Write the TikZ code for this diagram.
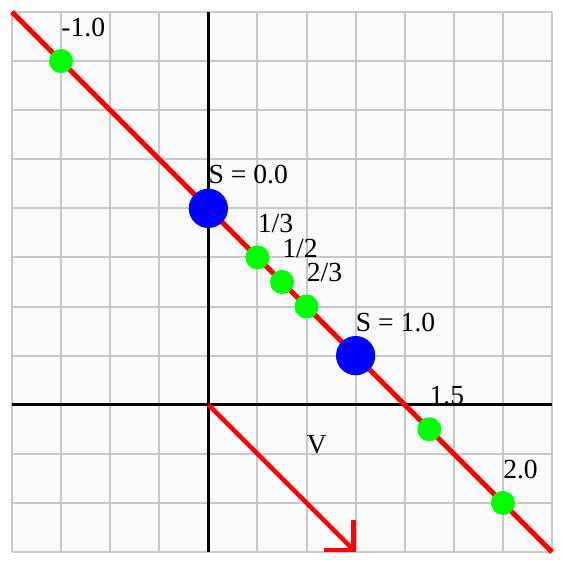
\documentclass[tikz,border=0pt]{standalone}
\usepackage{fontspec}
\setmainfont{Liberation Serif}
\usetikzlibrary{arrows.meta,positioning}
\definecolor{gridgray}{RGB}{200,200,200}
\definecolor{paper}{RGB}{250,250,250}
\tikzset{
  gpt/.style={circle, fill=green, inner sep=0pt, minimum size=0.49cm},
  bpt/.style={circle, fill=blue, inner sep=0pt, minimum size=0.8cm},
  lbl/.style={anchor=base west, inner sep=0pt, font=\fontsize{16}{19}\selectfont},
  ray/.style={red, line width=2.9pt},
  vec/.style={red, line width=2.6pt, -{Straight Barb[angle=90:0.6cm]}},
}
\begin{document}
\begin{tikzpicture}
    \useasboundingbox (-4.244,-3.244) rectangle (7.244,8.244);
    % background grid
    \fill[paper] (-4,-3) rectangle (7,8);
    \draw[gridgray, line width=1.15pt] (-4,-3) grid (7,8);
    % axes
    \coordinate (xl) at (-4,0); \coordinate (xr) at (7,0);
    \coordinate (yb) at (0,-3); \coordinate (yt) at (0,8);
    \draw[black, line width=1.7pt] (xl)--(xr);
    \draw[black, line width=1.7pt] (yb)--(yt);
    % line and direction vector
    \coordinate (a) at (-4,8); \coordinate (b) at (7,-3);
    \draw[ray] (a)--(b);
    \coordinate (o) at (0,0); \coordinate (v) at (3,-3);
    \draw[vec] (o)--(v);
    \node[lbl] (vl) at (2,-1) {V};
    % points on the line
    \node[gpt] (pm1) at (-3,7) {};
    \node[bpt] (p0)  at (0,4) {};
    \node[gpt] (p13) at (1,3) {};
    \node[gpt] (p12) at (1.5,2.5) {};
    \node[gpt] (p23) at (2,2) {};
    \node[bpt] (p1)  at (3,1) {};
    \node[gpt] (p15) at (4.5,-0.5) {};
    \node[gpt] (p2)  at (6,-2) {};
    % labels
    \node[lbl] (lm1) at ([yshift=0.5cm]pm1.center) {-1.0};
    \node[lbl] (l0)  at ([yshift=0.5cm]p0.center)  {S = 0.0};
    \node[lbl] (l13) at ([yshift=0.5cm]p13.center) {1/3};
    \node[lbl] (l12) at ([yshift=0.5cm]p12.center) {1/2};
    \node[lbl] (l23) at ([yshift=0.5cm]p23.center) {2/3};
    \node[lbl] (l1)  at ([yshift=0.5cm]p1.center)  {S = 1.0};
    \node[lbl] (l15) at ([yshift=0.5cm]p15.center) {1.5};
    \node[lbl] (l2)  at ([yshift=0.5cm]p2.center)  {2.0};
\end{tikzpicture}
\end{document}
